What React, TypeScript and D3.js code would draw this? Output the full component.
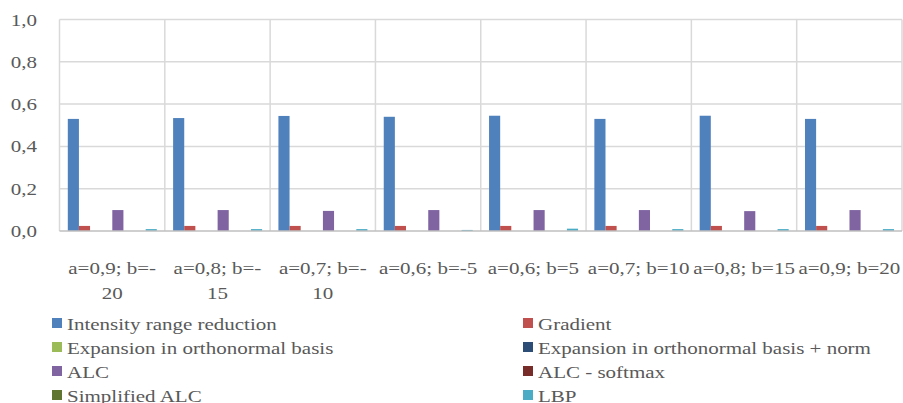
import React, {useEffect, useRef} from 'react';
import * as d3 from 'd3';

const categories = ["c1", "c2", "c3", "c4", "c5", "c6", "c7", "c8"];
const tickLabels = [
    ["a=0,9; b=-", "20"],
    ["a=0,8; b=-", "15"],
    ["a=0,7; b=-", "10"],
    ["a=0,6; b=-5"],
    ["a=0,6; b=5"],
    ["a=0,7; b=10"],
    ["a=0,8; b=15"],
    ["a=0,9; b=20"]
];
const seriesNames = [
    "Intensity range reduction",
    "Gradient",
    "Expansion in orthonormal basis",
    "Expansion in orthonormal basis + norm",
    "ALC",
    "ALC - softmax",
    "Simplified ALC",
    "LBP"
];
const seriesColors = ["#4F81BD", "#C0504D", "#9BBB59", "#2C4D75", "#8064A2", "#772C2A", "#5F7530", "#4BACC6"];
const intensity = [0.530, 0.534, 0.544, 0.540, 0.545, 0.530, 0.545, 0.530];
const gradient = [0.024, 0.024, 0.024, 0.024, 0.024, 0.024, 0.024, 0.024];
const expansion = [0, 0, 0, 0, 0, 0, 0, 0];
const expansionNorm = [0, 0, 0, 0, 0, 0, 0, 0];
const alc = [0.099, 0.099, 0.095, 0.099, 0.099, 0.099, 0.094, 0.099];
const alcSoftmax = [0, 0, 0, 0, 0, 0, 0, 0];
const simplifiedAlc = [0, 0, 0, 0, 0, 0, 0, 0];
const lbp = [0.009, 0.009, 0.009, 0.005, 0.011, 0.009, 0.009, 0.009];
const yTicks = [0, 0.2, 0.4, 0.6, 0.8, 1.0];

const allSeries = [intensity, gradient, expansion, expansionNorm, alc, alcSoftmax, simplifiedAlc, lbp];

const width = 903;
const height = 403;
const textColor = "#595959";
const font = "'Liberation Serif', 'Times New Roman', serif";
const fontSize = 17.5;
const stretch = 1.2;

export default function App() {
    const ref = useRef<SVGSVGElement>(null);

    useEffect(() => {
        const svg = d3.select(ref.current);
        svg.selectAll("*").remove();

        const xScale = d3.scaleBand<string>()
            .domain(categories)
            .range([59.5, 902])
            .padding(0);
        const inner = d3.scaleBand<number>()
            .domain(d3.range(seriesNames.length))
            .range([8.3, 97.3])
            .padding(0);
        const yScale = d3.scaleLinear()
            .domain([0, 1])
            .range([231, 19.5]);

        // horizontal gridlines
        svg.append("g")
            .selectAll("line")
            .data(yTicks.slice(1))
            .enter()
            .append("line")
            .attr("x1", 59.5)
            .attr("x2", 902)
            .attr("y1", d => yScale(d))
            .attr("y2", d => yScale(d))
            .attr("stroke", "#d9d9d9")
            .attr("stroke-width", 1.5);

        // vertical separators
        const bounds = categories.map(c => xScale(c) as number).concat([xScale.range()[1]]);
        svg.append("g")
            .selectAll("line")
            .data(bounds)
            .enter()
            .append("line")
            .attr("x1", d => d)
            .attr("x2", d => d)
            .attr("y1", yScale(1))
            .attr("y2", yScale(0))
            .attr("stroke", "#d9d9d9")
            .attr("stroke-width", 1.5);

        // bars
        allSeries.forEach((values, si) => {
            svg.append("g")
                .selectAll("rect")
                .data(values)
                .enter()
                .append("rect")
                .attr("x", (d, i) => (xScale(categories[i]) as number) + (inner(si) as number))
                .attr("y", d => yScale(d))
                .attr("width", inner.bandwidth())
                .attr("height", d => yScale(0) - yScale(d))
                .attr("fill", seriesColors[si]);
        });

        // bottom axis line
        svg.append("line")
            .attr("x1", 59.5)
            .attr("x2", 902)
            .attr("y1", yScale(0))
            .attr("y2", yScale(0))
            .attr("stroke", "#bfbfbf")
            .attr("stroke-width", 1.5);

        // y labels
        svg.append("g")
            .selectAll("text")
            .data(yTicks)
            .enter()
            .append("text")
            .attr("transform", d => `translate(37, ${yScale(d) + 6}) scale(${stretch}, 1)`)
            .attr("text-anchor", "end")
            .attr("font-family", font)
            .attr("font-size", fontSize)
            .attr("fill", textColor)
            .text(d => d3.format(".1f")(d).replace(".", ","));

        // x labels
        const xl = svg.append("g");
        tickLabels.forEach((lines, i) => {
            const cx = (xScale(categories[i]) as number) + xScale.bandwidth() / 2;
            lines.forEach((line, li) => {
                xl.append("text")
                    .attr("transform", `translate(${cx}, ${274 + li * 25}) scale(${stretch}, 1)`)
                    .attr("text-anchor", "middle")
                    .attr("font-family", font)
                    .attr("font-size", fontSize)
                    .attr("fill", textColor)
                    .text(line);
            });
        });

        // legend
        const legend = svg.append("g");
        seriesNames.forEach((name, i) => {
            const col = i % 2;
            const row = Math.floor(i / 2);
            const sx = col === 0 ? 52 : 523;
            const cy = 323 + row * 24;
            legend.append("rect")
                .attr("x", sx)
                .attr("y", cy - 5)
                .attr("width", 10)
                .attr("height", 10)
                .attr("fill", seriesColors[i]);
            legend.append("text")
                .attr("transform", `translate(${sx + 15}, ${cy + 7}) scale(${stretch}, 1)`)
                .attr("font-family", font)
                .attr("font-size", fontSize)
                .attr("fill", textColor)
                .text(name);
        });
    }, []);

    return (
        <svg ref={ref} width={width} height={height}
             style={{position: "absolute", left: 0, top: 0, background: "#fff"}}/>
    );
}
